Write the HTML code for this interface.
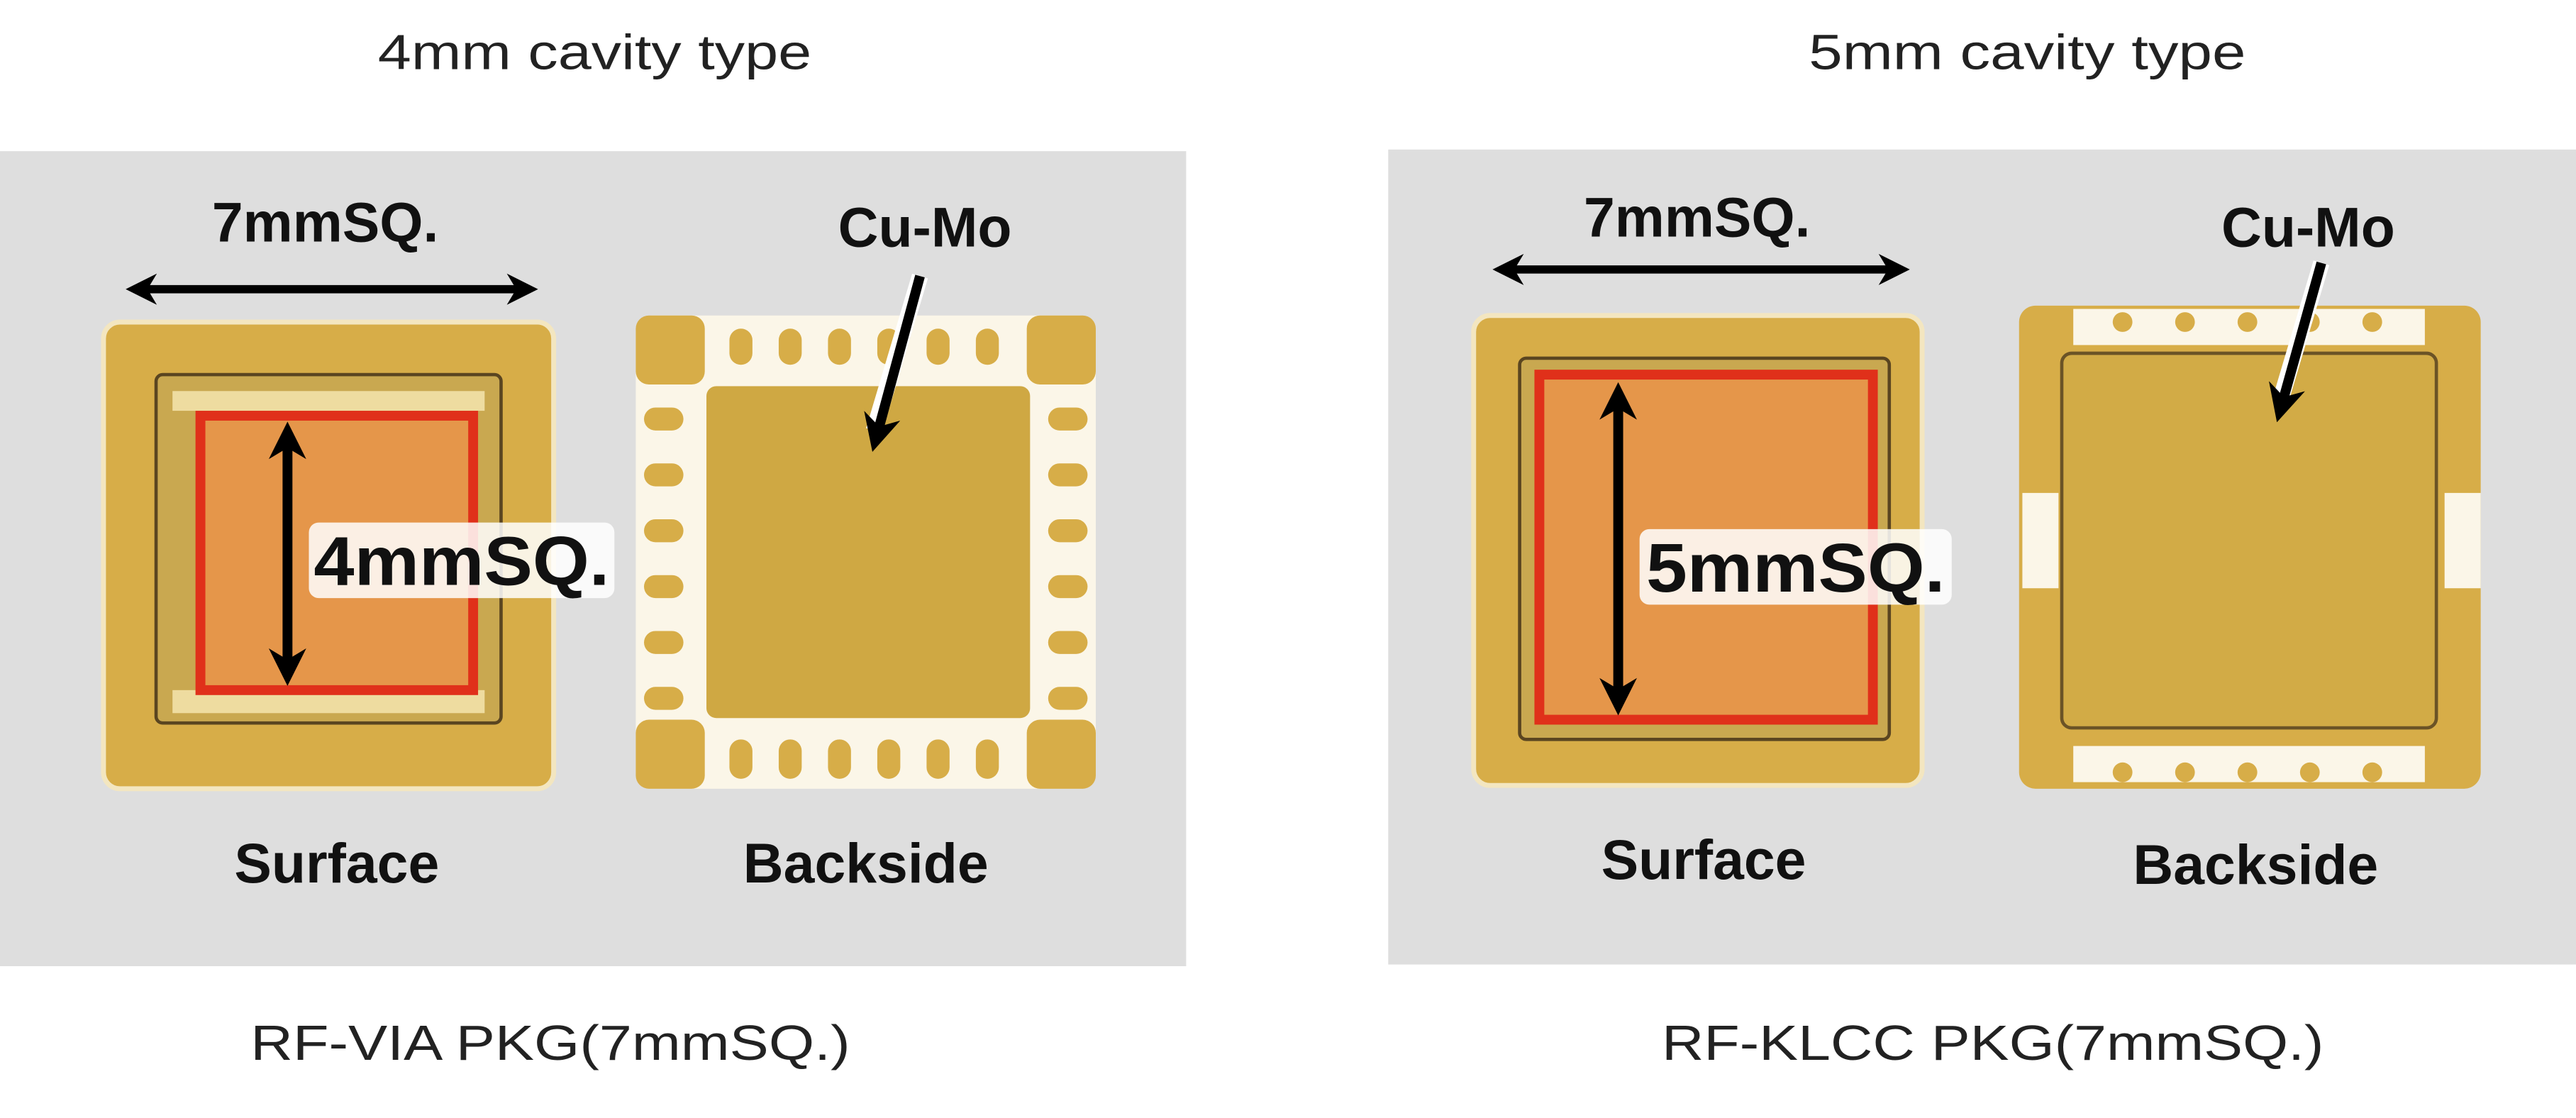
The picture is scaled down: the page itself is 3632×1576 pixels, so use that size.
<!DOCTYPE html>
<html><head><meta charset="utf-8"><style>
html,body{margin:0;padding:0;background:#fff;}
svg{display:block;}
</style></head><body>
<svg width="3632" height="1576" viewBox="0 0 1568 680.4" preserveAspectRatio="none" xmlns="http://www.w3.org/2000/svg">
<defs>
<marker id="ah" viewBox="0 0 10 10" refX="5" refY="5" markerWidth="3.8" markerHeight="3.8" orient="auto-start-reverse"><path d="M0,0 L10,5 L0,10 L3,5 z" fill="#000"/></marker>
</defs>
<rect width="1568" height="680.4" fill="#fff"/>
<g font-family="'Liberation Sans','Noto Sans CJK JP',sans-serif" font-size="30" fill="#222" text-anchor="middle">
<text x="362" y="42" textLength="264" lengthAdjust="spacingAndGlyphs">4mm cavity type</text>
<text x="1234" y="42" textLength="266" lengthAdjust="spacingAndGlyphs">5mm cavity type</text>
<text x="335" y="645" textLength="365" lengthAdjust="spacingAndGlyphs">RF-VIA PKG(7mmSQ.)</text>
<text x="1213" y="645" textLength="403" lengthAdjust="spacingAndGlyphs">RF-KLCC PKG(7mmSQ.)</text>
</g>
<rect x="0" y="92" width="722" height="496" fill="#dedede"/>
<rect x="845" y="91" width="723" height="496" fill="#dedede"/>

<!-- LEFT surface -->
<rect x="63" y="196" width="274" height="284" rx="10" fill="#d7ad48" stroke="#f3e6c0" stroke-width="3"/>
<rect x="95" y="228" width="210" height="212" rx="4" fill="#c9a850" stroke="#5a4520" stroke-width="2"/>
<g fill="#eedca0">
<rect x="105" y="420" width="190" height="14"/>
<rect x="105" y="238" width="190" height="12"/>
</g>
<rect x="122" y="253" width="166" height="167" fill="#e5964a" stroke="#e0301a" stroke-width="6"/>
<line x1="175" y1="268" x2="175" y2="406" stroke="#000" stroke-width="6" marker-start="url(#ah)" marker-end="url(#ah)"/>
<rect x="188" y="318" width="186" height="46" rx="6" fill="#fff" opacity="0.85"/>
<g font-family="'Liberation Sans',sans-serif" font-weight="bold" fill="#111" text-anchor="middle">
<text x="281" y="356" font-size="42" textLength="180" lengthAdjust="spacingAndGlyphs">4mmSQ.</text>
</g>
<line x1="86" y1="176" x2="318" y2="176" stroke="#000" stroke-width="5" marker-start="url(#ah)" marker-end="url(#ah)"/>

<!-- LEFT backside -->
<rect x="387" y="192" width="280" height="288" rx="10" fill="#fbf6e8"/>
<g fill="#d7ad48">
<rect x="387" y="192" width="42" height="42" rx="8"/><rect x="625" y="192" width="42" height="42" rx="8"/>
<rect x="387" y="438" width="42" height="42" rx="8"/><rect x="625" y="438" width="42" height="42" rx="8"/>
<rect x="444" y="200" width="14" height="22" rx="7"/><rect x="474" y="200" width="14" height="22" rx="7"/><rect x="504" y="200" width="14" height="22" rx="7"/><rect x="534" y="200" width="14" height="22" rx="7"/><rect x="564" y="200" width="14" height="22" rx="7"/><rect x="594" y="200" width="14" height="22" rx="7"/>
<rect x="444" y="450" width="14" height="24" rx="7"/><rect x="474" y="450" width="14" height="24" rx="7"/><rect x="504" y="450" width="14" height="24" rx="7"/><rect x="534" y="450" width="14" height="24" rx="7"/><rect x="564" y="450" width="14" height="24" rx="7"/><rect x="594" y="450" width="14" height="24" rx="7"/>
<rect x="392" y="248" width="24" height="14" rx="7"/><rect x="392" y="282" width="24" height="14" rx="7"/><rect x="392" y="316" width="24" height="14" rx="7"/><rect x="392" y="350" width="24" height="14" rx="7"/><rect x="392" y="384" width="24" height="14" rx="7"/><rect x="392" y="418" width="24" height="14" rx="7"/>
<rect x="638" y="248" width="24" height="14" rx="7"/><rect x="638" y="282" width="24" height="14" rx="7"/><rect x="638" y="316" width="24" height="14" rx="7"/><rect x="638" y="350" width="24" height="14" rx="7"/><rect x="638" y="384" width="24" height="14" rx="7"/><rect x="638" y="418" width="24" height="14" rx="7"/>
</g>
<rect x="430" y="235" width="197" height="202" rx="6" fill="#cfa843"/>
<line x1="560" y1="168" x2="532" y2="262" stroke="#fff" stroke-width="10"/>
<line x1="560" y1="168" x2="534" y2="264" stroke="#000" stroke-width="6" marker-end="url(#ah)"/>

<g font-family="'Liberation Sans',sans-serif" font-weight="bold" fill="#111" text-anchor="middle" font-size="34">
<text x="198" y="147">7mmSQ.</text>
<text x="563" y="150">Cu-Mo</text>
<text x="205" y="537">Surface</text>
<text x="527" y="537">Backside</text>
</g>

<!-- RIGHT surface -->
<rect x="897" y="192" width="273" height="286" rx="10" fill="#d7ad48" stroke="#f3e6c0" stroke-width="3"/>
<rect x="925" y="218" width="225" height="232" rx="4" fill="#c9a850" stroke="#5a4520" stroke-width="2"/>
<rect x="937" y="228" width="203" height="210" fill="#e5964a" stroke="#e0301a" stroke-width="6"/>
<line x1="985" y1="244" x2="985" y2="424" stroke="#000" stroke-width="6" marker-start="url(#ah)" marker-end="url(#ah)"/>
<rect x="998" y="322" width="190" height="46" rx="6" fill="#fff" opacity="0.85"/>
<g font-family="'Liberation Sans',sans-serif" font-weight="bold" fill="#111" text-anchor="middle">
<text x="1093" y="360" font-size="42" textLength="182" lengthAdjust="spacingAndGlyphs">5mmSQ.</text>
</g>
<line x1="918" y1="164" x2="1153" y2="164" stroke="#000" stroke-width="5" marker-start="url(#ah)" marker-end="url(#ah)"/>

<!-- RIGHT backside -->
<rect x="1229" y="186" width="281" height="294" rx="10" fill="#d7ad48"/>
<rect x="1262" y="188" width="214" height="22" fill="#fbf6e8"/>
<rect x="1262" y="454" width="214" height="22" fill="#fbf6e8"/>
<rect x="1231" y="300" width="22" height="58" fill="#fbf6e8"/>
<rect x="1488" y="300" width="22" height="58" fill="#fbf6e8"/>
<g fill="#d7ad48">
<circle cx="1292" cy="196" r="6"/><circle cx="1330" cy="196" r="6"/><circle cx="1368" cy="196" r="6"/><circle cx="1406" cy="196" r="6"/><circle cx="1444" cy="196" r="6"/>
<circle cx="1292" cy="470" r="6"/><circle cx="1330" cy="470" r="6"/><circle cx="1368" cy="470" r="6"/><circle cx="1406" cy="470" r="6"/><circle cx="1444" cy="470" r="6"/>
</g>
<rect x="1255" y="215" width="228" height="228" rx="6" fill="#d2ab46" stroke="#6b5326" stroke-width="2"/>
<line x1="1413" y1="160" x2="1388" y2="244" stroke="#fff" stroke-width="10"/>
<line x1="1413" y1="160" x2="1389" y2="246" stroke="#000" stroke-width="6" marker-end="url(#ah)"/>

<g font-family="'Liberation Sans',sans-serif" font-weight="bold" fill="#111" text-anchor="middle" font-size="34">
<text x="1033" y="144">7mmSQ.</text>
<text x="1405" y="150">Cu-Mo</text>
<text x="1037" y="535">Surface</text>
<text x="1373" y="538">Backside</text>
</g>
</svg>
</body></html>
